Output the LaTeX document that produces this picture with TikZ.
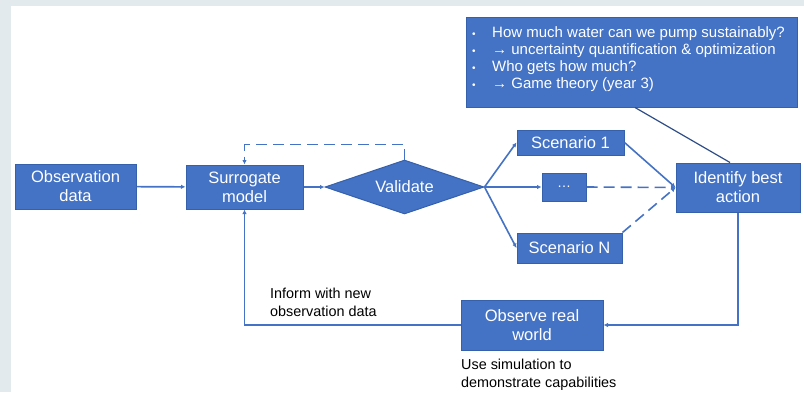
\documentclass[tikz,border=0pt]{standalone}
\usepackage{fontspec}
\setmainfont{Liberation Sans}
\usetikzlibrary{shapes.geometric,arrows.meta}
\definecolor{bgc}{HTML}{E3EAEE}
\definecolor{boxfill}{HTML}{4472C4}
\definecolor{boxline}{HTML}{3560AC}
\definecolor{linec}{HTML}{4472C4}
\definecolor{darkl}{HTML}{2E4D86}
\tikzset{
  box/.style={draw=boxline, line width=1pt, fill=boxfill, text=white, inner sep=0pt,
    align=center, font=\fontsize{16.5}{19}\selectfont},
  arr/.style={draw=linec, line width=1.6pt, -{Latex[length=4.5pt,width=4.5pt]}},
  dsh/.style={dash pattern=on 11pt off 6pt},
  note/.style={align=left, inner sep=0pt, font=\fontsize{14.4}{18}\selectfont, anchor=west},
  bl/.style={}
}
\newcommand{\bul}{\makebox[20pt][l]{\fontsize{10}{10}\selectfont\textbullet}}
\begin{document}
\begin{tikzpicture}[x=1pt,y=-1pt]
\path[use as bounding box] (0,0) rectangle (804,392);
\fill[bgc] (0,0) rectangle (804,6);
\fill[bgc] (0,0) rectangle (11,392);

\node[box, minimum width=121pt, minimum height=45pt] (obs) at (75.5,186.5) {Observation\\data};
\node[box, minimum width=117pt, minimum height=44pt] (sur) at (244.5,187) {Surrogate\\model};
\node[box, shape=diamond, minimum width=159pt, minimum height=54pt, shape aspect=2.9] (val) at (404.5,187) {Validate};
\node[box, minimum width=107pt, minimum height=25pt] (s1) at (570.5,142.5) {Scenario 1};
\node[box, minimum width=44pt, minimum height=28pt] (dots) at (564,187) {\fontsize{14}{14}\selectfont\dots};
\node[box, minimum width=105pt, minimum height=30pt] (sN) at (569.5,248) {Scenario N};
\node[box, minimum width=124pt, minimum height=49pt] (ida) at (738,187.5) {Identify best\\action};
\node[box, minimum width=142pt, minimum height=50pt] (obsw) at (532,325) {Observe real\\world};
\node[box, minimum width=331pt, minimum height=90pt] (top) at (631.5,62) {};
\node[align=left, inner sep=0pt, text=white, anchor=west, font=\fontsize{15}{17}\selectfont] (toptxt) at (472,59)
  {\bul How much water can we pump sustainably?\\
   \bul → uncertainty quantification \& optimization\\
   \bul Who gets how much?\\
   \bul → Game theory (year 3)};

\node[note] (inf) at (270,302.5) {Inform with new\\observation data};
\node[note] (sim) at (461,375) {Use simulation to\\demonstrate capabilities};

\draw[arr] (obs) -- (sur);
\draw[arr] (sur.east) -- (val.west);
\draw[arr, dsh] (val.north) -- ++(0,-15) -| (sur.north);
\draw[arr] (val.east) -- (s1.west);
\draw[arr] (val.east) -- (dots.west);
\draw[arr] (val.east) -- (sN.west);
\draw[arr] (s1.east) -- (ida.west);
\draw[arr, dsh] (dots.east) -- (ida.west);
\draw[arr, dsh] (sN.north east) -- (ida.west);
\draw[arr] (ida.south) |- (obsw.east);
\draw[arr] (obsw.west) -| (sur.south);
\draw[darkl, line width=1.2pt] ([xshift=3.5pt]top.south) -- ([xshift=-8pt]ida.north);
\end{tikzpicture}
\end{document}
